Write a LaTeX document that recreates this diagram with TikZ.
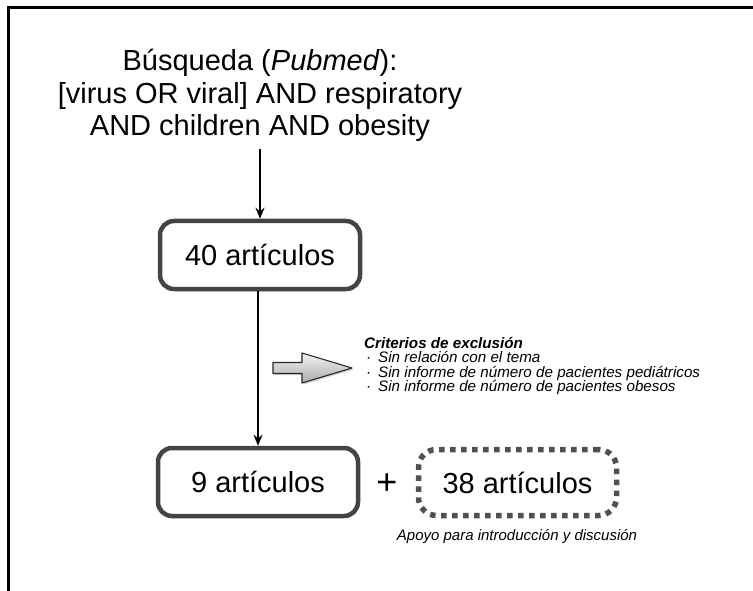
\documentclass[tikz,border=0pt]{standalone}
\usepackage{fontspec}
\setmainfont{Liberation Sans}
\usetikzlibrary{arrows.meta,shadows}
\definecolor{boxgray}{HTML}{444444}
\definecolor{dotgray}{HTML}{505050}
\tikzset{
  big/.style={font=\fontsize{29}{32.5}\selectfont},
  artbox/.style={big, draw=boxgray, line width=4.5pt, rounded corners=14pt, fill=white,
     minimum width=200pt, minimum height=68pt, inner sep=0pt,
     drop shadow={shadow xshift=1pt, shadow yshift=-2pt, opacity=0.3, fill=black}},
  dotbox/.style={big, draw=dotgray, line width=5.5pt, dash pattern=on 5.5pt off 5.5pt,
     rounded corners=18pt, minimum width=198pt, minimum height=66pt, inner sep=0pt},
  flow/.style={line width=1.8pt, -{Stealth[length=11pt,width=9pt]}},
  small/.style={font=\fontsize{15.2}{15.2}\selectfont\itshape},
  blockarrow/.style={draw=black!85, line width=1.1pt, line join=round,
     top color=gray!10, bottom color=gray!65,
     drop shadow={shadow xshift=1.5pt, shadow yshift=-1.5pt, opacity=0.35}},
}
\begin{document}
\begin{tikzpicture}[x=1pt,y=-1pt]
\useasboundingbox (0,0) rectangle (753,591);
% frame
\draw[line width=2.6pt] (753,7.5) -- (8.5,7.5) -- (8.5,591);
% title
\node[big, align=center] (title) at (260,95.5)
  {Búsqueda (\textit{Pubmed}):\\ {[}virus OR viral{]} AND respiratory\\ AND children AND obesity};
% boxes
\node[artbox] (b40) at (260,255) {40 artículos};
\node[artbox] (b9) at (258,482) {9 artículos};
\node[font=\fontsize{36}{36}\selectfont] (plus) at (387,484) {+};
\node[dotbox] (b38) at (517.5,482.5) {38 artículos};
\node[font=\fontsize{15}{15}\selectfont\itshape] (apoyo) at (517,537) {Apoyo para introducción y discusión};
% connectors
\coordinate (t1) at (260,149);
\draw[flow] (t1) -- (b40.north);
\draw[flow] (b40.south -| b9.north) -- (b9.north);
% block arrow
\draw[blockarrow] (273,362.5) -- (302,362.5) -- (302,353) -- (352,368) -- (302,383) -- (302,373.5) -- (273,373.5) -- cycle;
% exclusion criteria
\node[small, anchor=base west, inner sep=0pt] (crit) at (364,348) {\bfseries Criterios de exclusión};
\node[small, anchor=base west, inner sep=0pt] (c1) at (366,362.5) {\makebox[12pt][l]{·}Sin relación con el tema};
\node[small, anchor=base west, inner sep=0pt] (c2) at (366,377) {\makebox[12pt][l]{·}Sin informe de número de pacientes pediátricos};
\node[small, anchor=base west, inner sep=0pt] (c3) at (366,391.5) {\makebox[12pt][l]{·}Sin informe de número de pacientes obesos};
\end{tikzpicture}
\end{document}
